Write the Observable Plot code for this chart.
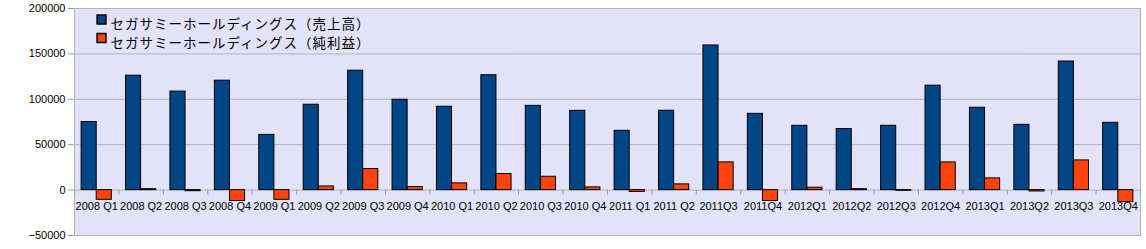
<!DOCTYPE html>
<html><head><meta charset="utf-8">
<script src="https://cdn.jsdelivr.net/npm/d3@7"></script>
<script src="https://cdn.jsdelivr.net/npm/@observablehq/plot@0.6"></script>
<style>body{margin:0;background:#fff;}</style>
</head><body><div id="chart"></div>
<script>
const quarters = ["2008 Q1","2008 Q2","2008 Q3","2008 Q4","2009 Q1","2009 Q2","2009 Q3","2009 Q4","2010 Q1","2010 Q2","2010 Q3","2010 Q4","2011 Q1","2011 Q2","2011Q3","2011Q4","2012Q1","2012Q2","2012Q3","2012Q4","2013Q1","2013Q2","2013Q3","2013Q4"];
const sales = [75000,126000,108500,120500,60800,94000,131500,99500,91800,126500,92800,87300,65300,87400,159300,84000,70800,67300,70800,115000,90700,71900,141600,74100];
const netIncome = [-10700,1000,-1200,-12000,-10700,4000,23200,3400,7400,17700,14700,3000,-2000,6300,30500,-12000,2600,1000,-800,30500,12900,-1500,32700,-13200];
const seriesNames = ["セガサミーホールディングス（売上高）","セガサミーホールディングス（純利益）"];
const seriesColors = ["#004586","#ff420e"];
const yTicks = [-50000,0,50000,100000,150000,200000];

const W=1146,H=249,mL=74,mR=6,mT=8,mB=14;
const step=(W-mL-mR)/quarters.length;
const barW=step*0.34;
const padOuter=(step-2*barW)/2;
const rows = quarters.map((q,i)=>({q, sales:sales[i], net:netIncome[i]}));
const font="'Liberation Sans', Arial, 'Noto Sans CJK JP', sans-serif";

const chart = Plot.plot({
  width:W, height:H, marginLeft:mL, marginRight:mR, marginTop:mT, marginBottom:mB,
  style:{fontFamily:font, fontSize:"11px", background:"white", color:"black"},
  x:{domain:quarters, padding:0, round:false, axis:null},
  y:{domain:[-50000,200000], axis:null},
  marks:[
    Plot.frame({fill:"#e2e2f8", stroke:"#b3b3b3"}),
    Plot.ruleY(yTicks, {stroke:"#b3b3b3"}),
    Plot.axisY(yTicks, {tickSize:6, tickPadding:3, tickFormat:d3.format("d"), stroke:"#999", fill:"black", fontSize:11}),
    Plot.text(quarters, {x:d=>d, y:()=>0, dy:16, text:d=>d, fill:"black", fontSize:11}),
    Plot.ruleX(quarters, {x:d=>d, y1:()=>0, y2:()=>-5500, dx:-step/2, stroke:"#999"}),
    Plot.ruleX([quarters[quarters.length-1]], {x:d=>d, y1:()=>0, y2:()=>-5500, dx:step/2, stroke:"#999"}),
    Plot.barY(rows, {x:"q", y:"sales", fill:seriesColors[0], stroke:"black", insetLeft:padOuter, insetRight:step-padOuter-barW}),
    Plot.barY(rows, {x:"q", y:"net", fill:seriesColors[1], stroke:"black", insetLeft:padOuter+barW, insetRight:padOuter}),
    Plot.dot([seriesNames[0]], {frameAnchor:"top-left", dx:27, dy:11, symbol:"square", r:5, fill:seriesColors[0], stroke:"black"}),
    Plot.dot([seriesNames[1]], {frameAnchor:"top-left", dx:27, dy:29.5, symbol:"square", r:5, fill:seriesColors[1], stroke:"black"}),
    Plot.text([seriesNames[0]], {frameAnchor:"top-left", dx:36, dy:11, text:d=>d, textAnchor:"start", fontSize:13.5, fill:"black"}),
    Plot.text([seriesNames[1]], {frameAnchor:"top-left", dx:36, dy:29.5, text:d=>d, textAnchor:"start", fontSize:13.5, fill:"black"})
  ]
});
d3.select(chart).selectAll("text")
  .filter(function(){ return seriesNames.includes(this.textContent); })
  .style("letter-spacing","1px");
document.getElementById("chart").appendChild(chart);
</script>
</body></html>
